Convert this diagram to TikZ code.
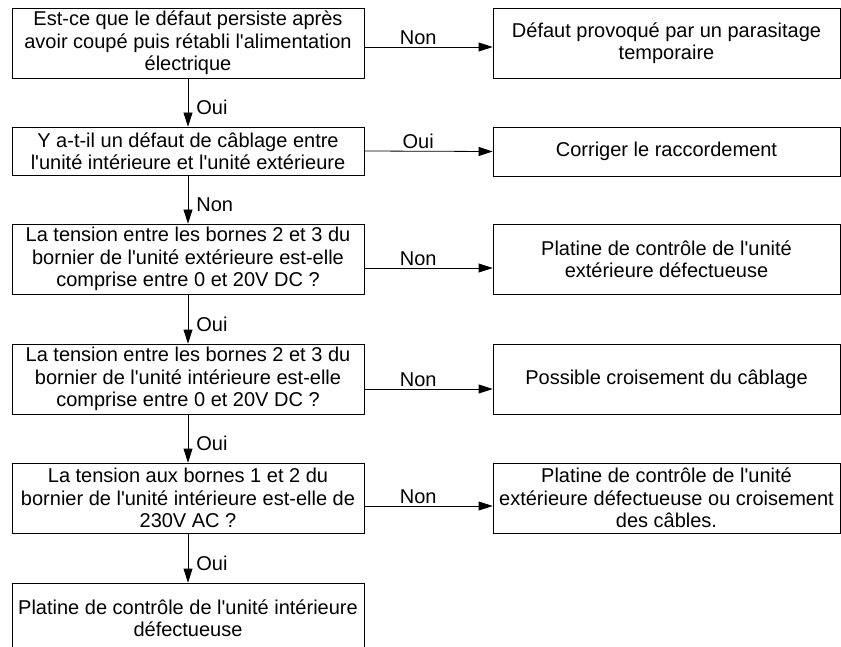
\documentclass[tikz,border=0pt]{standalone}
\usepackage{fontspec}
\setmainfont{Liberation Sans}
\usetikzlibrary{arrows.meta}
\newcommand{\ap}{\textquotesingle}

\begin{document}
\begin{tikzpicture}[x=1pt, y=-1pt,
  box/.style={draw, line width=0.8pt, align=center, inner sep=2pt,
              font=\fontsize{20}{22.5}\selectfont},
  qbox/.style={box, minimum width=352pt},
  rbox/.style={box, minimum width=347pt},
  link/.style={draw, line width=0.8pt, -{Triangle[length=14pt,width=9pt]}},
  lbl/.style={font=\fontsize{20}{22.5}\selectfont, inner sep=2pt}]
  \useasboundingbox (0,0) rectangle (841,647);

  % questions
  \node[qbox, minimum height=70pt] (q1) at (188,43)
    {Est-ce que le défaut persiste après\\avoir coupé puis rétabli l\ap alimentation\\électrique};
  \node[qbox, minimum height=48pt] (q2) at (188,151)
    {Y a-t-il un défaut de câblage entre\\l\ap unité intérieure et l\ap unité extérieure};
  \node[qbox, minimum height=70pt] (q3) at (188,259)
    {La tension entre les bornes 2 et 3 du\\bornier de l\ap unité extérieure est-elle\\comprise entre 0 et 20V DC ?};
  \node[qbox, minimum height=70pt] (q4) at (188,379)
    {La tension entre les bornes 2 et 3 du\\bornier de l\ap unité intérieure est-elle\\comprise entre 0 et 20V DC ?};
  \node[qbox, minimum height=70pt] (q5) at (188,498)
    {La tension aux bornes 1 et 2 du\\bornier de l\ap unité intérieure est-elle de\\230V AC ?};
  \node[qbox, minimum height=70pt] (q6) at (188,618)
    {Platine de contrôle de l\ap unité intérieure\\défectueuse};

  % results
  \node[rbox, minimum height=70pt] (r1) at (666.5,43)
    {Défaut provoqué par un parasitage\\temporaire};
  \node[rbox, minimum height=49pt] (r2) at (666.5,151.5)
    {Corriger le raccordement};
  \node[rbox, minimum height=70pt] (r3) at (666.5,259)
    {Platine de contrôle de l\ap unité\\extérieure défectueuse};
  \node[rbox, minimum height=70pt] (r4) at (666.5,379)
    {Possible croisement du câblage};
  \node[rbox, minimum height=70pt] (r5) at (666.5,498)
    {Platine de contrôle de l\ap unité\\extérieure défectueuse ou croisement\\des câbles.};

  % down the chain
  \draw[link] (q1) -- node[lbl, right=6pt, pos=0.6] {Oui} (q2);
  \draw[link] (q2) -- node[lbl, right=6pt, pos=0.6] {Non} (q3);
  \draw[link] (q3) -- node[lbl, right=6pt, pos=0.6] {Oui} (q4);
  \draw[link] (q4) -- node[lbl, right=6pt, pos=0.6] {Oui} (q5);
  \draw[link] (q5) -- node[lbl, right=6pt, pos=0.6] {Oui} (q6);

  % to the right
  \draw[link] ([yshift=-4pt]q1.east) -- node[lbl, above, pos=0.42] {Non} ([yshift=-4pt]r1.west);
  \draw[link] (q2.east) -- node[lbl, above, pos=0.42] {Oui} (r2.west);
  \draw[link] ([yshift=-9pt]q3.east) -- node[lbl, above, pos=0.42] {Non} ([yshift=-9pt]r3.west);
  \draw[link] ([yshift=-10pt]q4.east) -- node[lbl, above, pos=0.42] {Non} ([yshift=-10pt]r4.west);
  \draw[link] ([yshift=-8pt]q5.east) -- node[lbl, above, pos=0.42] {Non} ([yshift=-8pt]r5.west);
\end{tikzpicture}
\end{document}
